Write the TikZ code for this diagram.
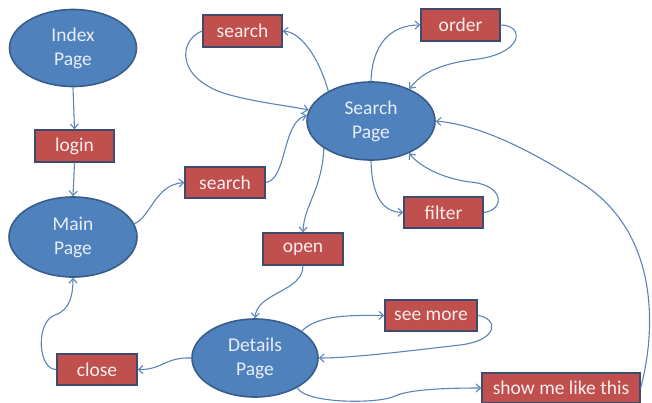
\documentclass[tikz,border=0pt]{standalone}
\usepackage{fontspec}
\setmainfont{Carlito}
\usetikzlibrary{arrows.meta}
\definecolor{ellfill}{HTML}{4F81BD}
\definecolor{elldraw}{HTML}{385D8A}
\definecolor{boxfill}{HTML}{C0504D}
\definecolor{boxdraw}{HTML}{3F4A6E}
\definecolor{linkc}{HTML}{5A84B8}
\definecolor{elltext}{HTML}{E8EEF7}
\definecolor{boxtext}{HTML}{FBEDED}
\tikzset{
  page/.style={ellipse, fill=ellfill, draw=elldraw, line width=1.6pt, inner sep=0pt,
    text=elltext, align=center, font=\fontsize{19.5}{24}\selectfont},
  act/.style={rectangle, fill=boxfill, draw=boxdraw, line width=1.4pt, inner sep=0pt,
    minimum height=31pt, text=boxtext, font=\fontsize{19.5}{24}\selectfont},
  link/.style={draw=linkc, line width=1.1pt, -{Straight Barb[length=4.5pt,width=8pt]}}
}
\usetikzlibrary{shapes.geometric}
\begin{document}
\begin{tikzpicture}[x=1pt,y=-1pt]
\useasboundingbox (0,0) rectangle (652,402);
% pages
\node[page, minimum width=127pt, minimum height=77pt] (idx) at (73,48) {Index\\Page};
\node[page, minimum width=128pt, minimum height=80pt] (main) at (73,237) {Main\\Page};
\node[page, minimum width=128pt, minimum height=78pt] (sp) at (371,121) {Search\\Page};
\node[page, minimum width=126pt, minimum height=78pt] (dp) at (255,358) {Details\\Page};
% actions
\node[act, minimum width=79pt, minimum height=32pt] (login) at (74.5,146) {login};
\node[act, minimum width=80pt] (s2) at (225,182.5) {search};
\node[act, minimum width=79pt, minimum height=32pt] (s1) at (242.5,31) {search};
\node[act, minimum width=79pt, minimum height=32pt] (order) at (460.5,25) {order};
\node[act, minimum width=79pt] (filter) at (443.5,212.5) {filter};
\node[act, minimum width=80pt, minimum height=32pt] (open) at (303,249) {open};
\node[act, minimum width=80pt] (close) at (97,369.5) {close};
\node[act, minimum width=92pt] (more) at (431,315.5) {see more};
\node[act, minimum width=158pt, minimum height=30pt] (show) at (561,388) {show me like this};
% links
\draw[link] (idx.south) -- (login.north);
\draw[link] (login.south) -- (main.north);
\draw[link] (main.12) .. controls (152,215) and (155,185) .. (s2.west);
\draw[link] (s2.east) .. controls (287,180) and (282,122) .. (sp.175);
\draw[link] (sp.145) .. controls (318,55) and (300,32) .. (s1.east);
\draw[link] (s1.west) .. controls (178,40) and (175,80) .. (230,95) .. controls (260,103) and (290,106) .. (sp.170);
\draw[link] (sp.north) .. controls (372,45) and (390,25) .. (order.west);
\draw[link] (order.east) .. controls (525,25) and (525,55) .. (470,60) .. controls (430,66) and (418,78) .. (sp.40);
\draw[link] (sp.south) .. controls (372,200) and (385,212) .. (filter.west);
\draw[link] (filter.east) .. controls (505,210) and (505,185) .. (470,182) .. controls (440,178) and (418,165) .. (sp.-40);
\draw[link] (sp.-150) .. controls (322,190) and (304,205) .. (open.north);
\draw[link] (open.south) .. controls (303,292) and (257,292) .. (dp.north);
\draw[link] (dp.west) .. controls (165,357) and (162,370) .. (close.east);
\draw[link] (close.west) .. controls (38,370) and (35,322) .. (55,315) .. controls (70,310) and (73,295) .. (main.south);
\draw[link] (dp.30) .. controls (318,315) and (350,315) .. (more.west);
\draw[link] (more.east) .. controls (498,318) and (500,340) .. (460,345) .. controls (400,352) and (350,358) .. (dp.east);
\draw[link] (dp.-35) .. controls (305,404) and (380,404) .. (395,396) .. controls (410,389) and (450,388) .. (show.west);
\draw[link] (show.east) .. controls (656,330) and (660,232) .. (580,182) .. controls (530,150) and (480,125) .. (sp.east);
\end{tikzpicture}
\end{document}
